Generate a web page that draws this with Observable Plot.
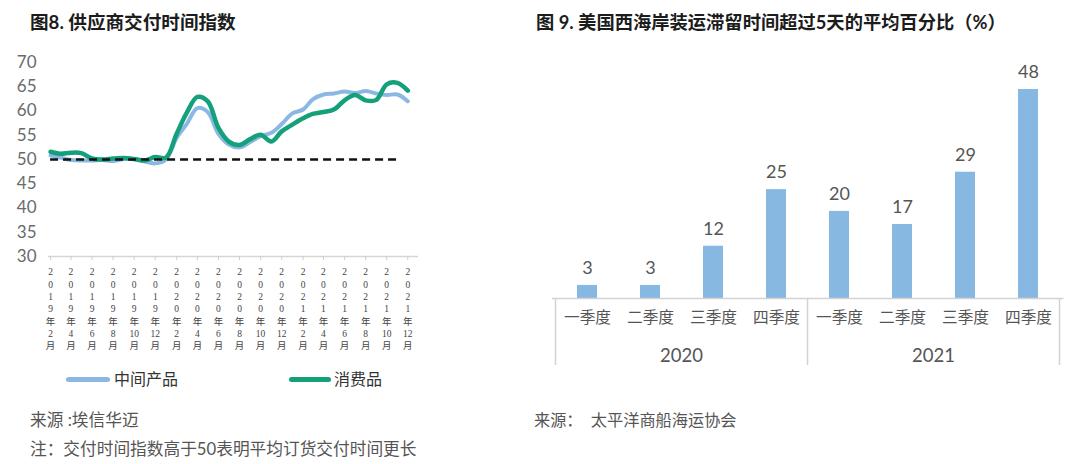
<!DOCTYPE html>
<html><head><meta charset="utf-8">
<script src="https://cdn.jsdelivr.net/npm/d3@7"></script>
<script src="https://cdn.jsdelivr.net/npm/@observablehq/plot@0.6"></script>
<style>
body{margin:0;background:#fff;font-family:Lato,"Noto Sans CJK SC",sans-serif;}
#page{position:relative;width:1080px;height:464px;overflow:hidden;background:#fff;}
.abs{position:absolute;white-space:nowrap;}
.title{font-weight:700;line-height:20px;color:#1c1c1c;}
.src{line-height:20px;color:#555;}
.leg{font-size:16px;line-height:20px;color:#333;}
.sw{position:absolute;height:5px;border-radius:3px;}
#left svg g[aria-label="x-axis tick label"] text{font-family:"Liberation Serif","Noto Sans CJK SC",serif;}
</style></head><body><div id="page">
<div class="abs title" style="left:30px;top:12px;font-size:18.6px">图8. 供应商交付时间指数</div>
<div class="abs title" style="left:536px;top:12px;font-size:18.3px">图 9. 美国西海岸装运滞留时间超过5天的平均百分比（%）</div>
<div id="left" class="abs" style="left:0;top:45px"></div>
<div id="right" class="abs" style="left:530px;top:45px"></div>
<div id="legend"></div>
<div class="abs src" style="left:30px;top:410px;font-size:16.7px">来源 :埃信华迈</div>
<div class="abs src" style="left:30px;top:439px;font-size:16.7px">注：交付时间指数高于50表明平均订货交付时间更长</div>
<div class="abs src" style="left:534px;top:410px;font-size:16.2px">来源：&nbsp;&nbsp;太平洋商船海运协会</div>
</div>
<script>
// ---- Figure 8 data ----
const months = ["2019-02","2019-03","2019-04","2019-05","2019-06","2019-07","2019-08","2019-09","2019-10","2019-11","2019-12",
  "2020-01","2020-02","2020-03","2020-04","2020-05","2020-06","2020-07","2020-08","2020-09","2020-10","2020-11","2020-12",
  "2021-01","2021-02","2021-03","2021-04","2021-05","2021-06","2021-07","2021-08","2021-09","2021-10","2021-11","2021-12"];
const intermediate = [50.8,50.4,49.9,49.8,49.8,49.9,49.7,50.1,50.1,49.6,49.2,
  50.0,54.5,57.3,60.6,59.8,55.3,53.1,52.5,53.6,54.8,55.5,57.3,
  59.5,60.3,62.4,63.4,63.6,64.0,63.7,64.1,63.6,63.3,63.4,62.0];
const consumer = [51.6,51.2,51.4,51.3,50.2,50.0,50.2,50.3,50.1,49.8,50.5,
  50.4,55.3,59.6,62.9,62.0,56.5,53.7,53.0,54.2,55.1,53.7,55.8,
  57.2,58.5,59.4,59.8,60.3,62.2,63.3,62.2,62.3,65.5,65.8,64.2];
const seriesNames = ["中间产品","消费品"];
const yTicks = [30,35,40,45,50,55,60,65,70];
const xTicks = ["2019-02","2019-04","2019-06","2019-08","2019-10","2019-12","2020-02","2020-04","2020-06","2020-08","2020-10","2020-12",
  "2021-02","2021-04","2021-06","2021-08","2021-10","2021-12"];
const baseline = 50;
const baselineSpan = ["2019-02","2021-11"];

// ---- Figure 9 data ----
const years = ["2020","2021"];
const quarters = ["一季度","二季度","三季度","四季度"];
const share2020 = [3,3,12,25];
const share2021 = [20,17,29,48];

const blue = "#8bb8e2", green = "#15a07c", barBlue = "#86b8e1";
const font = "Lato, 'Noto Sans CJK SC', sans-serif";
const parse = d3.utcParse("%Y-%m");

const rows = months.map((m, i) => ({date: parse(m), intermediate: intermediate[i], consumer: consumer[i]}));
const fmtTick = d => {
  const y = String(d.getUTCFullYear()).split("").join("\n");
  return `${y}\n年\n${d.getUTCMonth() + 1}\n月`;
};

const chart1 = Plot.plot({
  width: 430, height: 315,
  marginLeft: 48, marginRight: 12, marginTop: 17, marginBottom: 104,
  style: {fontFamily: font, background: "transparent", overflow: "visible"},
  x: {type: "utc", domain: [d3.utcDay.offset(parse(months[0]), -6), d3.utcMonth.offset(parse(months[months.length - 1]), 1)]},
  y: {domain: [yTicks[0], yTicks[yTicks.length - 1]]},
  marks: [
    Plot.ruleY([yTicks[0]], {stroke: "#d6d6d6", strokeWidth: 1.5}),
    Plot.axisY({ticks: yTicks, tickSize: 0, tickPadding: 12, fontSize: 17, color: "#6a6a6a", label: null}),
    Plot.axisX({ticks: xTicks.map(parse), tickSize: 4, tickPadding: 6, stroke: "#cfcfcf", fill: "#444",
      fontSize: 9.5, lineHeight: 1.3, tickFormat: fmtTick, label: null}),
    Plot.lineY(rows, {x: "date", y: "intermediate", stroke: blue, strokeWidth: 4, curve: "catmull-rom"}),
    Plot.lineY(rows, {x: "date", y: "consumer", stroke: green, strokeWidth: 4.5, curve: "catmull-rom"}),
    Plot.ruleY([{y: baseline, x1: parse(baselineSpan[0]), x2: parse(baselineSpan[1])}],
      {y: "y", x1: "x1", x2: "x2", stroke: "#111", strokeWidth: 2.6, strokeDasharray: "8,5"})
  ]
});
document.getElementById("left").append(chart1);

// legend
const legend = document.getElementById("legend");
[[seriesNames[0], blue, 66, 44, 114], [seriesNames[1], green, 289, 42, 334]].forEach(([name, c, sx, sw, tx]) => {
  const s = document.createElement("div");
  s.className = "sw"; s.style.left = sx + "px"; s.style.top = "377px"; s.style.width = sw + "px"; s.style.background = c;
  legend.append(s);
  const t = document.createElement("div");
  t.className = "abs leg"; t.style.left = tx + "px"; t.style.top = "369px"; t.textContent = name;
  legend.append(t);
});

// ---- Figure 9 ----
const shares = [share2020, share2021];
const bars = [];
years.forEach((yr, j) => quarters.forEach((q, i) => bars.push({key: `${yr}|${q}`, year: yr, quarter: q, value: shares[j][i]})));
const keys = bars.map(d => d.key);

function groupAxis(index, scales, values, dims) {
  const x = scales.x, y = scales.y;
  const bw = typeof x.bandwidth === "function" ? x.bandwidth() : 0;
  const c = k => x(k) + bw / 2;
  const step = c(keys[1]) - c(keys[0]);
  const y0 = y(0);
  const g = d3.create("svg:g");
  const edges = [];
  years.forEach(yr => {
    const ks = keys.filter(k => k.startsWith(yr + "|"));
    const left = c(ks[0]) - step / 2, right = c(ks[ks.length - 1]) + step / 2;
    edges.push(left);
    g.append("text").attr("x", (left + right) / 2).attr("y", y0 + 57)
      .attr("text-anchor", "middle").attr("dominant-baseline", "central")
      .attr("font-size", 18.5).attr("fill", "#555").attr("font-family", font).text(yr);
  });
  edges.push(c(keys[keys.length - 1]) + step / 2);
  edges.forEach(e => g.append("line").attr("x1", e).attr("x2", e).attr("y1", y0).attr("y2", y0 + 67)
    .attr("stroke", "#d3d3d3").attr("stroke-width", 1.5));
  return g.node();
}

const chart2 = Plot.plot({
  width: 550, height: 330,
  marginLeft: 22, marginRight: 16.5, marginTop: 44, marginBottom: 77,
  style: {fontFamily: font, background: "transparent", overflow: "visible"},
  x: {domain: keys, paddingInner: 0.683, paddingOuter: 0.34},
  y: {domain: [0, d3.max(bars, d => d.value)], axis: null},
  marks: [
    Plot.barY(bars, {x: "key", y: "value", fill: barBlue}),
    Plot.text(bars, {x: "key", y: "value", text: d => String(d.value), dy: -17, fontSize: 18, fill: "#555"}),
    Plot.ruleY([0], {stroke: "#d3d3d3", strokeWidth: 1.5}),
    Plot.axisX({tickSize: 0, tickPadding: 13, tickFormat: k => k.split("|")[1], fontSize: 15.7, color: "#555", label: null}),
    groupAxis
  ]
});
document.getElementById("right").append(chart2);
</script>
</body></html>
